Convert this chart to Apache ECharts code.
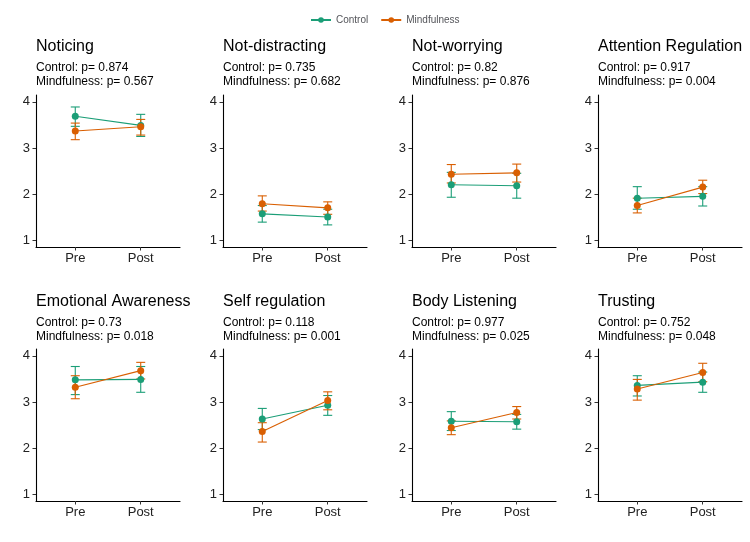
<!DOCTYPE html>
<html>
<head>
<meta charset="utf-8">
<script src="https://cdn.jsdelivr.net/npm/echarts@6/dist/echarts.min.js"></script>
<style>html,body{margin:0;padding:0;background:#fff;overflow:hidden}#c{position:absolute;left:0;top:0;width:750px;height:542px;background:#fff}</style>
</head>
<body>
<div id="c"></div>
<script>
var categories = ['Pre', 'Post'];
var yTicks = [1, 2, 3, 4];
var panelTitles = ['Noticing', 'Not-distracting', 'Not-worrying', 'Attention Regulation',
  'Emotional Awareness', 'Self regulation', 'Body Listening', 'Trusting'];
var pControl = ['0.874', '0.735', '0.82', '0.917', '0.73', '0.118', '0.977', '0.752'];
var pMind = ['0.567', '0.682', '0.876', '0.004', '0.018', '0.001', '0.025', '0.048'];

var controlMean = [[3.69, 3.49], [1.57, 1.50], [2.20, 2.18], [1.91, 1.95], [3.48, 3.49], [2.63, 2.93], [2.58, 2.57], [3.36, 3.43]];
var controlLow  = [[3.47, 3.25], [1.39, 1.33], [1.93, 1.91], [1.67, 1.74], [3.16, 3.21], [2.40, 2.71], [2.38, 2.41], [3.13, 3.21]];
var controlHigh = [[3.89, 3.73], [1.75, 1.67], [2.47, 2.45], [2.16, 2.16], [3.77, 3.77], [2.86, 3.14], [2.79, 2.73], [3.57, 3.65]];

var mindMean = [[3.37, 3.46], [1.79, 1.70], [2.43, 2.46], [1.75, 2.15], [3.32, 3.68], [2.36, 3.03], [2.44, 2.77], [3.28, 3.64]];
var mindLow  = [[3.18, 3.28], [1.63, 1.56], [2.24, 2.26], [1.59, 2.01], [3.07, 3.50], [2.13, 2.83], [2.29, 2.63], [3.04, 3.44]];
var mindHigh = [[3.54, 3.62], [1.96, 1.83], [2.64, 2.65], [1.91, 2.30], [3.57, 3.86], [2.55, 3.22], [2.59, 2.90], [3.49, 3.84]];

var colControl = '#1B9E77', colMind = '#D95F02';
var FONT = 'Liberation Sans, Arial, sans-serif';
var colLefts = [36, 223, 412, 598], rowTops = [95, 349], gridW = 144, gridH = 152;

function build() {
  var grids = [], xAxes = [], yAxes = [], titles = [], series = [];
  function errorSeries(i, name, low, high, color) {
    return {
      type: 'custom', name: name + ' SE', xAxisIndex: i, yAxisIndex: i, z: 2,
      data: categories.map(function (c, k) { return [k + 1, low[i][k], high[i][k]]; }),
      renderItem: function (params, api) {
        var x = api.value(0);
        var lo = api.coord([x, api.value(1)]);
        var hi = api.coord([x, api.value(2)]);
        var hw = 4.5;
        return { type: 'group', children: [
          { type: 'line', shape: { x1: lo[0], y1: lo[1], x2: hi[0], y2: hi[1] }, style: { stroke: color, lineWidth: 1.1 } },
          { type: 'line', shape: { x1: lo[0] - hw, y1: lo[1], x2: lo[0] + hw, y2: lo[1] }, style: { stroke: color, lineWidth: 1.1 } },
          { type: 'line', shape: { x1: hi[0] - hw, y1: hi[1], x2: hi[0] + hw, y2: hi[1] }, style: { stroke: color, lineWidth: 1.1 } }
        ]};
      }
    };
  }
  function lineSeries(i, name, mean, color) {
    return { type: 'line', name: name, xAxisIndex: i, yAxisIndex: i, z: 3,
      data: categories.map(function (c, k) { return [k + 1, mean[i][k]]; }),
      symbol: 'circle', symbolSize: 7, lineStyle: { color: color, width: 1.1 }, itemStyle: { color: color } };
  }
  for (var i = 0; i < 8; i++) {
    var col = i % 4, row = Math.floor(i / 4);
    var left = colLefts[col], top = rowTops[row];
    grids.push({ left: left, top: top, width: gridW, height: gridH });
    var xa = { type: 'value', gridIndex: i, min: 0.4, max: 2.6,
      axisLine: { show: true, onZero: false, lineStyle: { color: '#000', width: 1.1 } },
      axisTick: { show: true, length: 3.5, lineStyle: { color: '#333' }, customValues: [1, 2] },
      axisLabel: { show: true, fontSize: 13, fontFamily: FONT, color: '#222', margin: 5, customValues: [1, 2],
        formatter: function (v) { var q = categories[Math.round(v) - 1]; return q || ''; } },
      splitLine: { show: false } };
    var ya = { type: 'value', gridIndex: i, min: 0.85, max: 4.15,
      axisLine: { show: true, onZero: false, lineStyle: { color: '#000', width: 1.1 } },
      axisTick: { show: true, length: 3.5, lineStyle: { color: '#333' }, customValues: yTicks },
      axisLabel: { show: true, fontSize: 13, fontFamily: FONT, color: '#222', margin: 6, customValues: yTicks },
      splitLine: { show: false } };
    xAxes.push(xa); yAxes.push(ya);
    titles.push({ text: panelTitles[i],
      subtext: 'Control: p= ' + pControl[i] + '\nMindfulness: p= ' + pMind[i],
      left: left, top: 37.5 + row * 255, padding: 0, itemGap: 5.5,
      textStyle: { fontSize: 16, fontWeight: 'normal', color: '#000', fontFamily: FONT, lineHeight: 18 },
      subtextStyle: { fontSize: 12, color: '#000', fontFamily: FONT, lineHeight: 13.5 } });
    series.push(errorSeries(i, 'Control', controlLow, controlHigh, colControl));
    series.push(lineSeries(i, 'Control', controlMean, colControl));
    series.push(errorSeries(i, 'Mindfulness', mindLow, mindHigh, colMind));
    series.push(lineSeries(i, 'Mindfulness', mindMean, colMind));
  }
  return {
    animation: false, grid: grids, xAxis: xAxes, yAxis: yAxes, series: series, title: titles,
    legend: { data: ['Control', 'Mindfulness'], top: 10, left: 305, itemWidth: 20, itemHeight: 7, itemGap: 12,
      textStyle: { fontSize: 10, fontFamily: FONT } }
  };
}
var chart = echarts.init(document.getElementById('c'));
chart.setOption(build());
</script>
</body>
</html>
